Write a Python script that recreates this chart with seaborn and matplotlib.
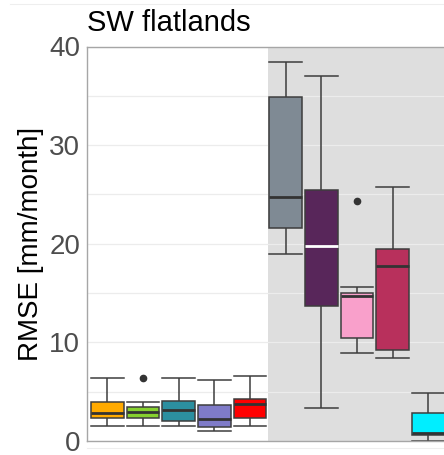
import numpy as np
import pandas as pd
import matplotlib
matplotlib.use("Agg")
import matplotlib.pyplot as plt
import seaborn as sns

# box summaries (mm/month)
models = ["m01", "m02", "m03", "m04", "m05", "m06", "m07", "m08", "m09", "m10"]
colors = ["#FFAA00", "#86D12F", "#2C8FA0", "#7F7BC8", "#FF0000",
          "#7F8A94", "#58265A", "#F9A0CB", "#B8305C", "#00EEFF"]
lower = [1.49, 1.49, 1.49, 1.05, 1.49, 18.97, 3.38, 8.89, 8.45, 0.03]
q1 = [2.30, 2.37, 2.00, 1.45, 2.30, 21.63, 13.69, 10.41, 9.26, 0.61]
med = [2.87, 2.91, 3.11, 2.23, 3.72, 24.78, 19.78, 14.74, 17.78, 0.81]
q3 = [3.99, 3.48, 4.03, 3.62, 4.26, 34.86, 25.46, 14.98, 19.44, 2.84]
upper = [6.42, 3.99, 6.42, 6.19, 6.62, 38.47, 37.05, 15.65, 25.79, 4.90]
outliers = [[], [6.42], [], [], [], [], [], [24.34], [], []]

# build sample values whose quartiles/whiskers equal the summaries above
rows = []
for i, m in enumerate(models):
    vals = [lower[i], q1[i], q1[i], med[i], med[i], q3[i], q3[i], upper[i]]
    # 9 points -> q1 at idx 2, median at idx 4, q3 at idx 6
    extra = outliers[i] if outliers[i] else [upper[i]]
    for v in vals + extra:
        rows.append({"model": m, "rmse": v})
df = pd.DataFrame(rows)

fig = plt.figure(figsize=(4.44, 4.55), dpi=100)
ax = fig.add_axes([87/444, 14/455, 377/444, 394.5/455])

ax.axvspan(4.5, 20, color="#dedede", zorder=0, lw=0)

sns.boxplot(data=df, x="model", y="rmse", hue="model", palette=colors,
            legend=False, width=0.91, linewidth=1.1, linecolor="#3d3d3d",
            saturation=1, capwidths=0.91,
            medianprops={"linewidth": 2.0, "color": "#333333"},
            flierprops={"marker": "o", "markersize": 4.5,
                        "markerfacecolor": "#333333",
                        "markeredgecolor": "#333333"},
            ax=ax)

# white median for the dark purple box
for ln in ax.lines:
    y = ln.get_ydata()
    if len(y) == 2 and np.allclose(y, med[6]):
        ln.set_color("white")

ax.set_xlim(-0.57, 10)
ax.set_ylim(0, 40)
ax.set_yticks([0, 10, 20, 30, 40])
ax.set_yticks([5, 15, 25, 35], minor=True)
ax.yaxis.grid(True, which="both", color="#ececec", lw=0.9, zorder=0.5)
ax.xaxis.grid(False)
ax.set_axisbelow(True)
ax.set_xticks([])
ax.set_xlabel("")
ax.tick_params(axis="y", which="both", length=0, pad=5,
               labelsize=20, labelcolor="#4d4d4d")
for lab in ax.get_yticklabels():
    lab.set_fontfamily("Liberation Sans")
ax.set_ylabel("RMSE [mm/month]", fontsize=20, family="Liberation Sans",
              labelpad=4)
ax.set_title("SW flatlands", loc="left", fontsize=21,
             family="Liberation Sans", pad=11)
for s in ax.spines.values():
    s.set_color("#a6a6a6")
    s.set_linewidth(1.0)

# faint borders of the neighbouring panels
fig.add_artist(plt.Line2D([10/444, 1], [1 - 4/455, 1 - 4/455],
                          color="#eeeeee", lw=0.8))
fig.add_artist(plt.Line2D([87/444, 1], [7/455, 7/455],
                          color="#eeeeee", lw=0.8))

fig.savefig("out.png", dpi=100)
